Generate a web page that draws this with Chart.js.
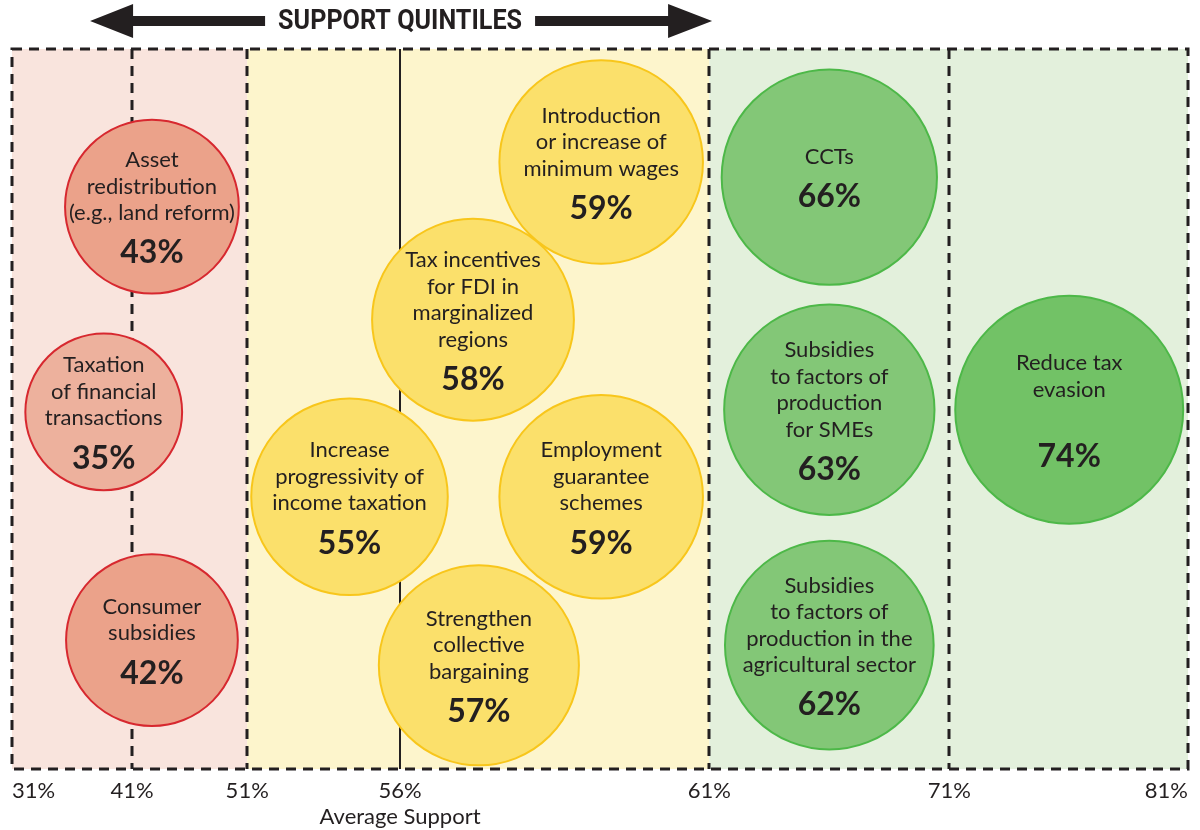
<!DOCTYPE html>
<html>
<head>
<meta charset="utf-8">
<script src="https://cdn.jsdelivr.net/npm/chart.js@4.4.1/dist/chart.umd.min.js"></script>
<style>
  html, body { margin: 0; padding: 0; background: #fff; }
  canvas { display: block; }
</style>
</head>
<body>
<canvas id="myChart" width="1200" height="830"></canvas>
<script>
// support axis: tick percentages and where they sit along the strip (0-100 layout units)
var tickValues = [31, 41, 51, 56, 61, 71, 81];
var tickPos = [0, 10.2, 20.0, 33.0, 59.3, 79.7, 100];
var tickNotes = ['', '', '', 'Average Support', '', '', ''];
var averageSupport = 56;
var quintileBreaks = [31, 41, 51, 61, 71, 81];

// policies and their support
var policyLabels = [
    ['Asset', 'redistribution', '(e.g., land reform)'],
    ['Taxation', 'of financial', 'transactions'],
    ['Consumer', 'subsidies'],
    ['Introduction', 'or increase of', 'minimum wages'],
    ['Tax incentives', 'for FDI in', 'marginalized', 'regions'],
    ['Increase', 'progressivity of', 'income taxation'],
    ['Employment', 'guarantee', 'schemes'],
    ['Strengthen', 'collective', 'bargaining'],
    ['CCTs'],
    ['Subsidies', 'to factors of', 'production', 'for SMEs'],
    ['Subsidies', 'to factors of', 'production in the', 'agricultural sector'],
    ['Reduce tax', 'evasion', '']
];
var support = [43, 35, 42, 59, 58, 55, 59, 57, 66, 63, 62, 74];

// where each bubble sits in the diagram (layout units, y counted from the top)
var bubbleX = [11.9, 7.8, 11.9, 50.1, 39.2, 28.7, 50.1, 39.7, 69.5, 69.5, 69.5, 89.9];
var bubbleY = [21.9, 50.4, 82.1, 15.7, 37.6, 62.2, 62.2, 85.6, 17.8, 50.1, 82.8, 50.1];

// colours per quintile
var quintileFill = ['#edb19d', '#eba28a', '#fbe06b', '#83c777', '#72c266'];
var quintileEdge = ['#d7282f', '#d7282f', '#f8c61b', '#4db848', '#4db848'];
var quintileBand = ['#f9e4dd', '#f9e4dd', '#fdf5cc', '#e3f0dc', '#e3f0dc'];
var ink = '#231f20';

function quintileOf(v) {
    for (var q = 0; q < 5; q++) {
        if (v < quintileBreaks[q + 1]) return q;
    }
    return 4;
}
function posOf(pct) {
    return tickPos[tickValues.indexOf(pct)];
}

// coloured quintile bands, dashed dividers and the average line
var backdrop = {
    id: 'backdrop',
    beforeDatasetsDraw: function (chart) {
        var ctx = chart.ctx, a = chart.chartArea, xs = chart.scales.x;
        ctx.save();
        for (var q = 0; q < 5; q++) {
            var x0 = xs.getPixelForValue(posOf(quintileBreaks[q]));
            var x1 = xs.getPixelForValue(posOf(quintileBreaks[q + 1]));
            ctx.fillStyle = quintileBand[q];
            ctx.fillRect(x0, a.top, x1 - x0, a.bottom - a.top);
        }
        ctx.strokeStyle = ink;
        ctx.lineWidth = 2;
        var xa = Math.round(xs.getPixelForValue(posOf(averageSupport)));
        ctx.beginPath();
        ctx.moveTo(xa, a.top);
        ctx.lineTo(xa, a.bottom);
        ctx.stroke();

        ctx.setLineDash([10, 7]);
        ctx.lineWidth = 3;
        for (var i = 1; i < quintileBreaks.length - 1; i++) {
            var x = Math.round(xs.getPixelForValue(posOf(quintileBreaks[i])));
            ctx.beginPath();
            ctx.moveTo(x, a.top);
            ctx.lineTo(x, a.bottom);
            ctx.stroke();
        }
        ctx.strokeRect(a.left, a.top, a.right - a.left, a.bottom - a.top);
        ctx.restore();
    }
};

// policy names and percentages inside the bubbles
var bubbleText = {
    id: 'bubbleText',
    afterDatasetsDraw: function (chart) {
        var ctx = chart.ctx;
        var meta = chart.getDatasetMeta(0);
        var lineH = 26.5, pctGap = 40;
        ctx.save();
        ctx.fillStyle = ink;
        ctx.textAlign = 'center';
        ctx.textBaseline = 'middle';
        meta.data.forEach(function (pt, i) {
            var lines = policyLabels[i];
            var block = (lines.length - 1) * lineH + pctGap;
            var y = pt.y - block / 2;
            ctx.font = '22px Lato';
            lines.forEach(function (s, k) {
                ctx.fillText(s, pt.x, y + k * lineH);
            });
            ctx.font = 'bold 32px Lato';
            ctx.fillText(support[i] + '%', pt.x, y + block);
        });
        ctx.restore();
    }
};

// "SUPPORT QUINTILES" double arrow above the strip
var quintileTitle = {
    id: 'quintileTitle',
    afterDraw: function (chart) {
        var ctx = chart.ctx, xs = chart.scales.x;
        var cx = xs.getPixelForValue(posOf(averageSupport));
        var cy = 21;
        ctx.save();
        ctx.fillStyle = ink;
        ctx.beginPath();
        var l = cx - 310, r = cx + 312;
        ctx.moveTo(l, cy);
        ctx.lineTo(l + 43, cy - 17);
        ctx.lineTo(l + 43, cy - 5);
        ctx.lineTo(cx - 135, cy - 5);
        ctx.lineTo(cx - 135, cy + 5);
        ctx.lineTo(l + 43, cy + 5);
        ctx.lineTo(l + 43, cy + 17);
        ctx.closePath();
        ctx.moveTo(r, cy);
        ctx.lineTo(r - 44, cy - 17);
        ctx.lineTo(r - 44, cy - 5);
        ctx.lineTo(cx + 135, cy - 5);
        ctx.lineTo(cx + 135, cy + 5);
        ctx.lineTo(r - 44, cy + 5);
        ctx.lineTo(r - 44, cy + 17);
        ctx.closePath();
        ctx.fill();

        var label = 'SUPPORT QUINTILES';
        ctx.font = 'bold 28px Roboto';
        var w = ctx.measureText(label).width;
        ctx.translate(cx, cy + 1);
        ctx.scale(244 / w, 1);
        ctx.textAlign = 'center';
        ctx.textBaseline = 'middle';
        ctx.fillText(label, 0, 0);
        ctx.restore();
    }
};

var ctx = document.getElementById('myChart').getContext('2d');
var chart = new Chart(ctx, {
    type: 'bubble',

    data: {
        datasets: [{
            label: 'Support',
            data: support.map(function (v, i) {
                return { x: bubbleX[i], y: bubbleY[i], r: 13.25 * Math.sqrt(v) };
            }),
            backgroundColor: function (c) { return quintileFill[quintileOf(support[c.dataIndex])]; },
            borderColor: function (c) { return quintileEdge[quintileOf(support[c.dataIndex])]; },
            borderWidth: 2,
            hoverRadius: 0,
            clip: false
        }]
    },

    options: {
        responsive: false,
        animation: false,
        events: [],
        layout: { autoPadding: false, padding: { left: 12, right: 12, top: 49, bottom: 0 } },
        plugins: {
            legend: { display: false },
            tooltip: { enabled: false }
        },
        scales: {
            x: {
                type: 'linear',
                min: 0,
                max: 100,
                afterBuildTicks: function (s) {
                    s.ticks = tickPos.map(function (p) { return { value: p }; });
                },
                afterFit: function (s) { s.height = 61; },
                grid: { display: false },
                border: { display: false },
                ticks: {
                    autoSkip: false,
                    maxRotation: 0,
                    align: 'inner',
                    padding: 0,
                    color: ink,
                    font: { family: 'Lato', size: 22, lineHeight: 1.22 },
                    callback: function (v, i) {
                        var t = tickValues[i] + '%';
                        return tickNotes[i] ? [t, tickNotes[i]] : t;
                    }
                }
            },
            y: { display: false, min: 0, max: 100, reverse: true }
        }
    },

    plugins: [backdrop, bubbleText, quintileTitle]
});
</script>
</body>
</html>
